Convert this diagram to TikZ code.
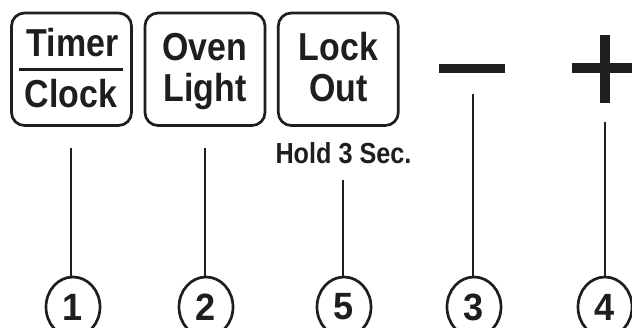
\documentclass[tikz,border=0pt]{standalone}
\usepackage{fontspec}
\newfontfamily\cond{Liberation Sans}[FakeStretch=0.87]
\newfontfamily\condb{Liberation Sans}[FakeStretch=0.95]
\usetikzlibrary{shapes.geometric}
\definecolor{ink}{HTML}{1E1E1E}
\begin{document}
\begin{tikzpicture}[x=1pt,y=-1pt,
  btn/.style={draw=ink,line width=2.7pt,rounded corners=13pt,minimum width=120pt,minimum height=112.5pt,inner sep=0pt},
  lbl/.style={anchor=base,inner sep=0pt,text=ink,font=\cond\bfseries\fontsize{39}{39}\selectfont},
  num/.style={draw=ink,ellipse,line width=2.7pt,minimum width=54pt,minimum height=60pt,inner sep=0pt,text=ink,font=\condb\bfseries\fontsize{38}{38}\selectfont},
  lead/.style={draw=ink,line width=2pt},
  bar/.style={fill=ink,inner sep=0pt}]
\useasboundingbox (0,0) rectangle (632,328);
\clip (0,0) rectangle (632,328);
% buttons
\node[btn] (b1) at (71.5,69.25) {};
\node[btn] (b2) at (205,69.25) {};
\node[btn] (b3) at (338.3,69.25) {};
\node[lbl] (t1) at (72.5,57) {Timer};
\node[lbl] (t2) at (71,108) {Clock};
\draw[ink,line width=3pt] (19,70) -- (123,70);
\node[lbl] (o1) at (204.5,61) {Oven};
\node[lbl] (o2) at (205,102) {Light};
\node[lbl] (l1) at (338.5,61) {Lock};
\node[lbl] (l2) at (338.5,102) {Out};
\node[anchor=base,inner sep=0pt,text=ink,font=\cond\bfseries\fontsize{29}{29}\selectfont] (hold) at (343.5,164) {Hold 3 Sec.};
% minus and plus
\node[bar,minimum width=66pt,minimum height=9pt] (minus) at (472,69) {};
\node[bar,minimum width=68pt,minimum height=10pt] (plush) at (606,68) {};
\node[bar,minimum width=10pt,minimum height=68pt] (plusv) at (605,69) {};
% numbered circles
\node[num] (n1) at (73,307) {1};
\node[num] (n2) at (206,307) {2};
\node[num] (n5) at (344,307) {5};
\node[num] (n3) at (474,307) {3};
\node[num] (n4) at (605,307) {4};
% leader start points
\coordinate (s1) at (71,148);
\coordinate (s2) at (205,148);
\coordinate (s5) at (343,180);
\coordinate (s3) at (473,94);
\coordinate (s4) at (605,122);
\draw[lead] (s1) -- (s1 |- n1.north);
\draw[lead] (s2) -- (s2 |- n2.north);
\draw[lead] (s5) -- (s5 |- n5.north);
\draw[lead] (s3) -- (s3 |- n3.north);
\draw[lead] (s4) -- (s4 |- n4.north);
\end{tikzpicture}
\end{document}
